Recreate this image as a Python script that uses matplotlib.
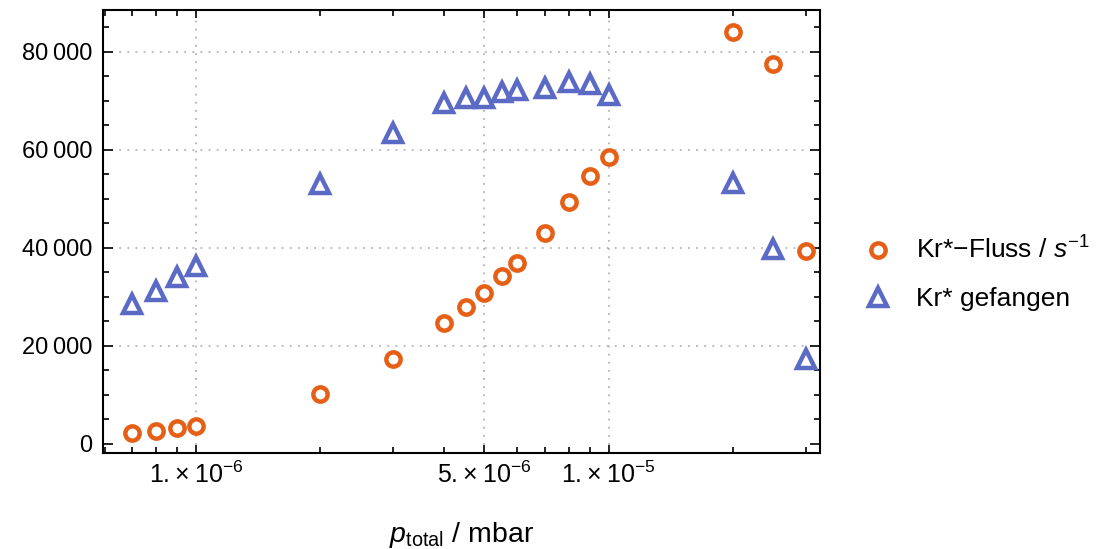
import matplotlib
matplotlib.use("Agg")
import matplotlib.pyplot as plt
from matplotlib.ticker import FixedLocator, NullFormatter

plt.rcParams['font.family'] = ['Liberation Sans', 'DejaVu Sans']
plt.rcParams['mathtext.fontset'] = 'custom'
plt.rcParams['mathtext.rm'] = 'Liberation Sans'
plt.rcParams['mathtext.it'] = 'Liberation Sans:italic'

# Druck / mbar
p_total = [7e-7, 8e-7, 9e-7, 1e-6, 2e-6, 3e-6, 4e-6, 4.5e-6, 5e-6, 5.5e-6,
           6e-6, 7e-6, 8e-6, 9e-6, 1e-5, 2e-5, 2.5e-5, 3e-5]
# Kr*-Fluss / s^-1
fluss = [2200, 2650, 3200, 3750, 10150, 17400, 24750, 28000, 30750, 34300,
         37000, 43000, 49400, 54700, 58650, 84000, 77550, 39450]
# Kr* gefangen
gefangen = [28550, 31200, 34000, 36300, 53050, 63350, 69500, 70550, 70650, 71900,
            72150, 72650, 73850, 73400, 71300, 53200, 39850, 17250]

x_major = [1e-6, 5e-6, 1e-5]
x_major_labels = ["1.\u2009\u00d7\u200910$^{-6}$", "5.\u2009\u00d7\u200910$^{-6}$",
                  "1.\u2009\u00d7\u200910$^{-5}$"]
x_minor = [6e-7, 7e-7, 8e-7, 9e-7, 2e-6, 3e-6, 4e-6, 6e-6, 7e-6, 8e-6, 9e-6, 2e-5, 3e-5]
y_major = [0, 20000, 40000, 60000, 80000]
y_major_labels = ["0", "20\u2009000", "40\u2009000", "60\u2009000", "80\u2009000"]
y_minor = list(range(5000, 90000, 5000))
y_grid = [20000, 40000, 60000, 80000]

orange = "#E65F16"
blue = "#5B6AC4"

fig = plt.figure(figsize=(11.11, 5.49), dpi=100)
ax = fig.add_axes([0.093, 0.175, 0.645, 0.807])

for gy in y_grid:
    ax.axhline(gy, color="#b4b4b4", lw=1.3, ls=(0, (1, 3.5)), zorder=0)
for gx in x_major:
    ax.axvline(gx, color="#b4b4b4", lw=1.3, ls=(0, (1, 3.5)), zorder=0)

ax.plot(p_total, fluss, ls="none", marker="o", ms=10.3, mew=3.2,
        mfc="white", mec=orange, label="Kr*\u2212Fluss / $s^{-1}$")
ax.plot(p_total, gefangen, ls="none", marker="^", ms=12.3, mew=3.2,
        mfc="white", mec=blue, label="Kr* gefangen")

ax.set_xscale("log")
ax.set_xlim(5.96e-7, 3.25e-5)
ax.set_ylim(-1840, 88570)

ax.xaxis.set_major_locator(FixedLocator(x_major))
ax.set_xticklabels(x_major_labels)
ax.xaxis.set_minor_locator(FixedLocator(x_minor))
ax.xaxis.set_minor_formatter(NullFormatter())
ax.set_yticks(y_major)
ax.set_yticklabels(y_major_labels)
ax.yaxis.set_minor_locator(FixedLocator(y_minor))

ax.tick_params(axis="both", which="both", direction="in", top=True, right=True,
               width=1.2, colors="black")
ax.tick_params(axis="y", which="major", length=7, pad=8, labelsize=17)
ax.tick_params(axis="y", which="minor", length=4)
ax.tick_params(axis="x", which="major", length=6, pad=6, labelsize=18)
ax.tick_params(axis="x", which="minor", length=4)
for s in ax.spines.values():
    s.set_linewidth(1.5)

ax.set_xlabel(r"$p_{\mathrm{total}}$ / mbar", fontsize=20.5, labelpad=23)

fig.legend(loc="center left", bbox_to_anchor=(0.757, 0.501), frameon=False,
           fontsize=19, handlelength=1.0, handletextpad=0.95, labelspacing=0.88)

fig.savefig("out.png", dpi=100)
